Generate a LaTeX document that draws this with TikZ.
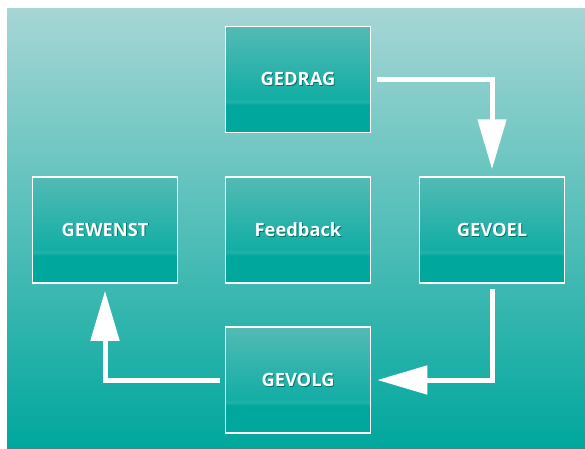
\documentclass[tikz,border=0pt]{standalone}
\usepackage{fontspec}
\setmainfont{Open Sans}
\usetikzlibrary{arrows.meta}

\definecolor{bgtop}{RGB}{166,214,213}
\definecolor{bgbot}{RGB}{0,167,157}
\definecolor{bxtop}{RGB}{84,186,181}
\definecolor{bxlow}{RGB}{18,174,165}
\definecolor{bxband}{RGB}{34,178,170}
\definecolor{bxbot}{RGB}{0,167,157}
\definecolor{txtshadow}{RGB}{0,112,104}

% background: light aqua at the top fading to teal
\pgfdeclareverticalshading{backshade}{100bp}{color(0bp)=(bgbot); color(25bp)=(bgbot); color(75bp)=(bgtop); color(100bp)=(bgtop)}
% box fill: lighter top, thin band, solid teal lower part
\pgfdeclareverticalshading{boxshade}{100bp}{color(0bp)=(bxbot); color(25bp)=(bxbot); color(38bp)=(bxbot); color(39.5bp)=(bxband); color(41bp)=(bxlow); color(75bp)=(bxtop); color(100bp)=(bxtop)}

\newcommand\shadowed[1]{\makebox[0pt][l]{\hspace{0.9pt}\raisebox{-0.9pt}{\color{txtshadow}#1}}#1}

\tikzset{
  stagebox/.style={draw=white, line width=1.5pt, shade, shading=boxshade,
    minimum width=145pt, minimum height=106pt, inner sep=0pt,
    font=\bfseries\fontsize{18.3}{20}\selectfont, text=white},
  flow/.style={draw=white, line width=5pt, line join=miter,
    -{Triangle[width=28pt,length=50pt]}}
}

\begin{document}
\begin{tikzpicture}[x=1pt,y=-1pt]
  \useasboundingbox (0,0) rectangle (585,448);
  \shade[shading=backshade] (7,8) rectangle (585,448);

  \node[stagebox] (gedrag)   at (298,79.5) {\shadowed{GEDRAG}};
  \node[stagebox] (gewenst)  at (105,230)  {\shadowed{GEWENST}};
  \node[stagebox] (feedback) at (298,230)  {\shadowed{Feedback}};
  \node[stagebox] (gevoel)   at (492,230)  {\shadowed{GEVOEL}};
  \node[stagebox] (gevolg)   at (298,380)  {\shadowed{GEVOLG}};

  \draw[flow, shorten <=6pt, shorten >=7pt] (gedrag.east) -| (gevoel.north);
  \draw[flow, shorten <=5pt, shorten >=6pt] (gevoel.south) |- (gevolg.east);
  \draw[flow, shorten <=5pt, shorten >=7pt] (gevolg.west) -| (gewenst.south);
\end{tikzpicture}
\end{document}
